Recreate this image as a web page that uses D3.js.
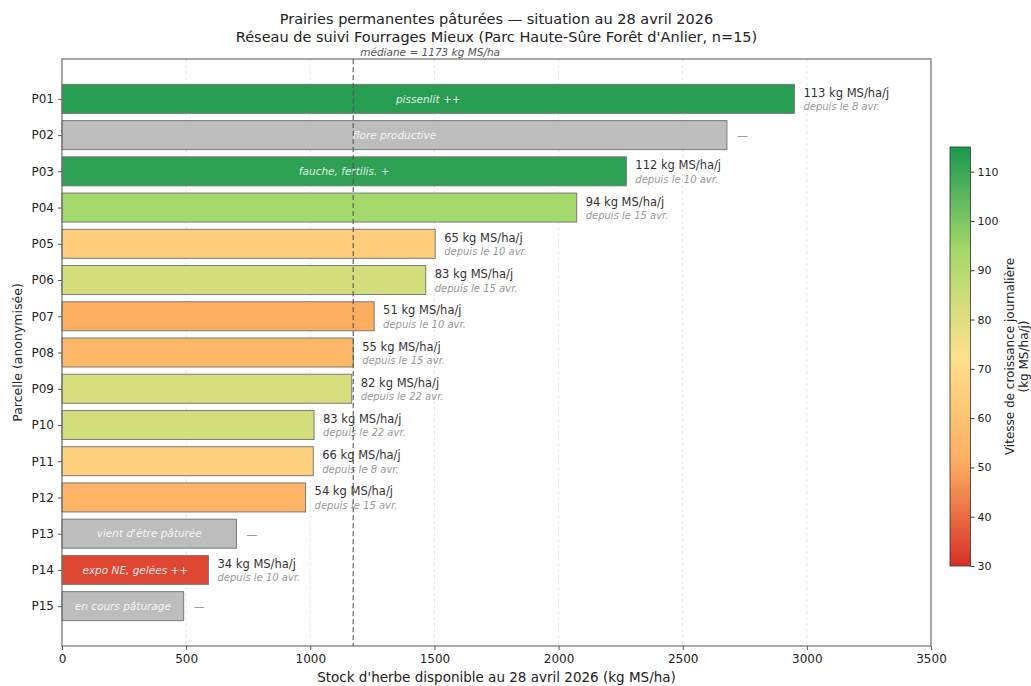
<!DOCTYPE html>
<html><head><meta charset="utf-8">
<script src="https://cdn.jsdelivr.net/npm/d3@7"></script>
<style>
body{margin:0;background:#fff;}
svg{font-family:"DejaVu Sans",sans-serif;}
</style></head>
<body><svg id="c" width="1031" height="686"></svg>
<script>
const parcels = ["P01","P02","P03","P04","P05","P06","P07","P08","P09","P10","P11","P12","P13","P14","P15"];
const stock   = [2950,2678,2273,2073,1503,1465,1257,1173,1167,1015,1012,981,703,590,490];
const growth  = [113,null,112,94,65,83,51,55,82,83,66,54,null,34,null];
const since   = ["8 avr.",null,"10 avr.","15 avr.","10 avr.","15 avr.","10 avr.","15 avr.","22 avr.","22 avr.","8 avr.","15 avr.",null,"10 avr.",null];
const notes   = ["pissenlit ++","flore productive","fauche, fertilis. +","","","","","","","","","","vient d'être pâturée","expo NE, gelées ++","en cours pâturage"];
const xTicks  = [0,500,1000,1500,2000,2500,3000,3500];
const cbTicks = [30,40,50,60,70,80,90,100,110];
const cmapColors = ["#d73027","#fdae61","#fee08b","#a6d96a","#1a9850"];
const median = 1173;

const svg = d3.select("#c");
const m = {l:62, r:931, t:59, b:646};
const x = d3.scaleLinear().domain([0,3500]).range([m.l,m.r]);
const y = d3.scaleLinear().domain([-1.1,15.1]).range([m.t,m.b]);
const rowH = y(1)-y(0);
const barH = rowH*0.8;
const cDom = [30,115];
const color = d3.scaleLinear()
  .domain(d3.range(5).map(i=>cDom[0]+i*(cDom[1]-cDom[0])/4))
  .range(cmapColors).interpolate(d3.interpolateRgb);

// grid
svg.append("g").selectAll("line").data(xTicks.slice(1,-1)).join("line")
  .attr("x1",d=>x(d)).attr("x2",d=>x(d)).attr("y1",m.t).attr("y2",m.b)
  .attr("stroke","#dcdcdc").attr("stroke-width",0.8).attr("stroke-dasharray","3,3");

// bars
const g = svg.append("g");
parcels.forEach((p,i)=>{
  const cy = y(i);
  g.append("rect").attr("x",x(0)).attr("y",cy-barH/2)
   .attr("width",x(stock[i])-x(0)).attr("height",barH)
   .attr("fill",growth[i]==null?"#bdbdbd":color(growth[i]))
   .attr("stroke","#7a7a7a").attr("stroke-width",1);
  if(notes[i]){
    g.append("text").attr("x",(x(0)+x(stock[i]))/2).attr("y",cy)
     .attr("dy","0.35em").attr("text-anchor","middle")
     .attr("font-size",10.5).attr("font-style","italic")
     .attr("fill","#ffffff").attr("fill-opacity",0.88).text(notes[i]);
  }
  const lx = x(stock[i])+9;
  if(growth[i]==null){
    g.append("text").attr("x",lx+1).attr("y",cy).attr("dy","0.35em")
     .attr("font-size",11).attr("fill","#888").text("—");
  } else {
    g.append("text").attr("x",lx).attr("y",cy-6).attr("dy","0.35em")
     .attr("font-size",11.5).attr("fill","#333").text(growth[i]+" kg MS/ha/j");
    g.append("text").attr("x",lx).attr("y",cy+8).attr("dy","0.35em")
     .attr("font-size",10).attr("font-style","italic").attr("fill","#999")
     .text("depuis le "+since[i]);
  }
});

// median line
svg.append("line").attr("x1",x(median)).attr("x2",x(median)).attr("y1",m.t).attr("y2",m.b)
  .attr("stroke","#555").attr("stroke-width",1.1).attr("stroke-dasharray","5,3");
svg.append("text").attr("x",x(median)+7).attr("y",m.t-3.5)
  .attr("font-size",10.5).attr("font-style","italic").attr("fill","#555")
  .text("médiane = "+median+" kg MS/ha");

// frame
svg.append("rect").attr("x",m.l).attr("y",m.t).attr("width",m.r-m.l).attr("height",m.b-m.t)
  .attr("fill","none").attr("stroke","#6e6e6e").attr("stroke-width",1.2);

// axes
const xAxis = svg.append("g").attr("transform",`translate(0,${m.b})`)
  .call(d3.axisBottom(x).tickValues(xTicks).tickSize(4).tickPadding(4).tickFormat(d3.format("d")));
const yAxis = svg.append("g").attr("transform",`translate(${m.l},0)`)
  .call(d3.axisLeft(y).tickValues(d3.range(parcels.length)).tickSize(4).tickPadding(4).tickFormat(i=>parcels[i]));
[xAxis,yAxis].forEach(a=>{
  a.select(".domain").remove();
  a.selectAll("line").attr("stroke","#555");
  a.selectAll("text").attr("font-size",12).attr("fill","#222").attr("font-family","DejaVu Sans");
});

// axis titles
svg.append("text").attr("x",(m.l+m.r)/2).attr("y",682).attr("text-anchor","middle")
  .attr("font-size",13.5).attr("fill","#222").text("Stock d'herbe disponible au 28 avril 2026 (kg MS/ha)");
svg.append("text").attr("transform",`translate(22,${(m.t+m.b)/2}) rotate(-90)`)
  .attr("text-anchor","middle").attr("font-size",12.5).attr("fill","#222").text("Parcelle (anonymisée)");

// title
svg.append("text").attr("x",(m.l+m.r)/2).attr("y",24).attr("text-anchor","middle")
  .attr("font-size",14.5).attr("fill","#222").text("Prairies permanentes pâturées — situation au 28 avril 2026");
svg.append("text").attr("x",(m.l+m.r)/2).attr("y",42).attr("text-anchor","middle")
  .attr("font-size",14.5).attr("fill","#222").text("Réseau de suivi Fourrages Mieux (Parc Haute-Sûre Forêt d'Anlier, n=15)");

// colorbar
const cb = {x:950, w:20.5, t:147, b:566};
const cy2 = d3.scaleLinear().domain(cDom).range([cb.b,cb.t]);
const defs = svg.append("defs");
const grad = defs.append("linearGradient").attr("id","cg").attr("x1",0).attr("y1",1).attr("x2",0).attr("y2",0);
d3.range(0,1.0001,0.05).forEach(t=>{
  grad.append("stop").attr("offset",t).attr("stop-color",color(cDom[0]+t*(cDom[1]-cDom[0])));
});
svg.append("rect").attr("x",cb.x).attr("y",cb.t).attr("width",cb.w).attr("height",cb.b-cb.t)
  .attr("fill","url(#cg)").attr("stroke","#333").attr("stroke-width",0.8);
const cAxis = svg.append("g").attr("transform",`translate(${cb.x+cb.w},0)`)
  .call(d3.axisRight(cy2).tickValues(cbTicks).tickSize(4).tickPadding(3));
cAxis.select(".domain").remove();
cAxis.selectAll("line").attr("stroke","#333");
cAxis.selectAll("text").attr("font-size",11).attr("fill","#222").attr("font-family","DejaVu Sans");
const cl = svg.append("text").attr("transform",`translate(1014,${(cb.t+cb.b)/2}) rotate(-90)`)
  .attr("text-anchor","middle").attr("font-size",12).attr("fill","#222");
cl.append("tspan").attr("x",0).attr("dy",0).text("Vitesse de croissance journalière");
cl.append("tspan").attr("x",0).attr("dy",14).text("(kg MS/ha/j)");
</script></body></html>
